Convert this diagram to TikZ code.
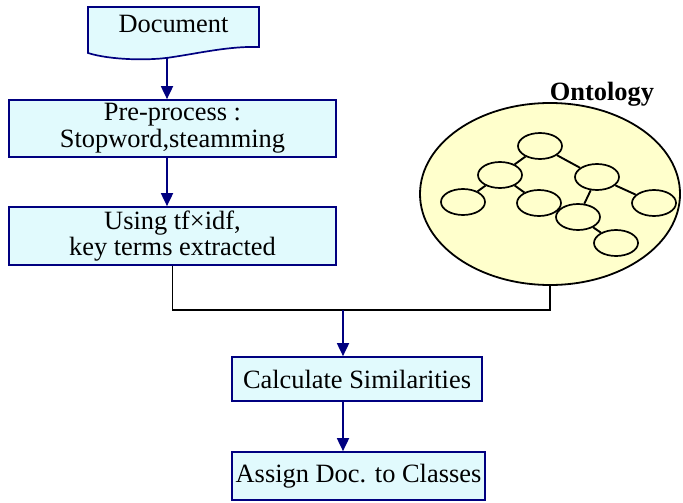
\documentclass[tikz,border=0pt]{standalone}
\usepackage{fontspec}
\setmainfont{Liberation Serif}
\usepackage{tikz}
\usetikzlibrary{arrows.meta,positioning,calc,shapes.geometric}
\definecolor{boxfill}{HTML}{E1FAFD}
\definecolor{boxline}{HTML}{000080}
\definecolor{ontofill}{HTML}{FFFFCC}

\begin{document}
\begin{tikzpicture}[
  x=0.5pt, y=-0.5pt,
  every node/.style={font=\fontsize{13.2}{13.3}\selectfont},
  stepbox/.style={draw=boxline, fill=boxfill, line width=0.85pt, align=center, inner sep=0pt},
  flow/.style={draw=boxline, line width=0.9pt, -{Triangle[length=6.5pt,width=6pt]}},
  joinline/.style={draw=black, line width=0.95pt},
  onto/.style={ellipse, draw=black, fill=ontofill, line width=0.9pt,
               minimum width=130pt, minimum height=91pt, inner sep=0pt},
  term/.style={ellipse, draw=black, fill=ontofill, line width=0.85pt,
               minimum width=22pt, minimum height=13pt, inner sep=0pt}]

\useasboundingbox (0,0) rectangle (683,502);

% ---- the document, a box with a wavy bottom ------------------------------
\draw[draw=boxline, fill=boxfill, line width=0.85pt]
  (88,53) -- (88,7) -- (259,7) -- (259,47)
  .. controls (230,46) and (200,53) .. (173,57)
  .. controls (150,61) and (110,60) .. (88,53) -- cycle;
\node (doc) at (173.5,24) {Document};
\coordinate (docbot) at (167,58);

% ---- the steps on the left ------------------------------------------------
\node[stepbox, minimum width=163.5pt, minimum height=28.5pt] (pre)   at (172.5,128.5)
  {Pre-process :\\Stopword,steamming};
\node[stepbox, minimum width=163.5pt, minimum height=29pt]   (using) at (172.5,236)
  {Using tf×idf,\\key terms extracted};
\node[stepbox, minimum width=125pt, minimum height=22pt]     (calc)  at (357,379)
  {Calculate Similarities};
\node[stepbox, minimum width=126.5pt, minimum height=24pt]   (assign) at (358.5,476)
  {Assign Doc. to Classes};

% ---- the ontology and its tree of concepts --------------------------------
\node[onto] (onto) at (550,194) {};
\node[font=\fontsize{13.2}{14}\selectfont\bfseries] (ontolab) at (602,94) {Ontology};

\node[term] (t1) at (540,146) {};
\node[term] (t2) at (500,175) {};
\node[term] (t3) at (597,177) {};
\node[term] (t4) at (463,202) {};
\node[term] (t5) at (539,203) {};
\node[term] (t6) at (654,203) {};
\node[term] (t7) at (578,217) {};
\node[term] (t8) at (616,243) {};
\draw[joinline] (t1) -- (t2) (t1) -- (t3) (t2) -- (t4) (t2) -- (t5)
                (t3) -- (t6) (t3) -- (t7) (t7) -- (t8);

% ---- arrows and the joining line ------------------------------------------
\coordinate (join) at (343,310);
\draw[flow] (docbot) -- (pre.north -| docbot);
\draw[flow] (pre.south -| docbot) -- (using.north -| docbot);
\draw[joinline] (using.south) |- (join) -| (onto.south);
\draw[flow] (join) -- (calc.north -| join);
\draw[flow] (calc.south -| join) -- (assign.north -| join);

\end{tikzpicture}
\end{document}
